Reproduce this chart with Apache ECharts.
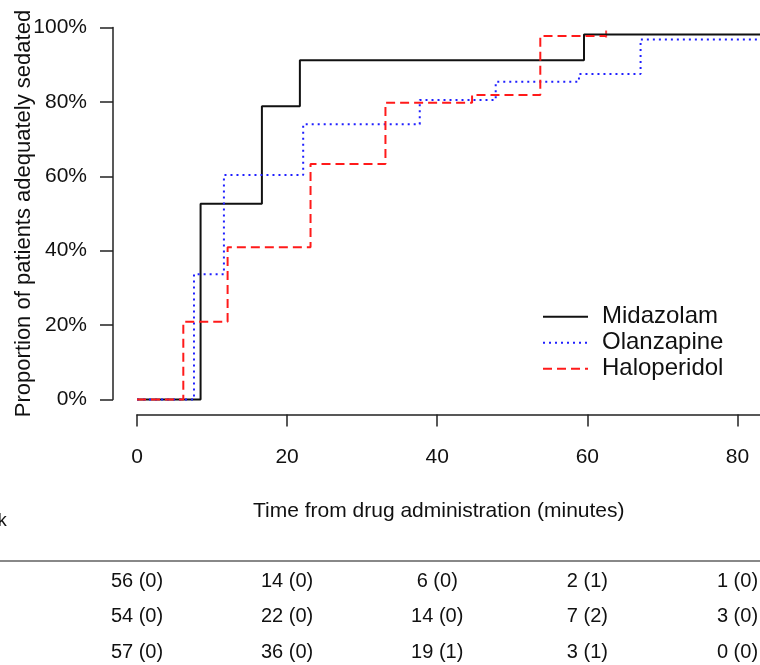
<!DOCTYPE html>
<html>
<head>
<meta charset="utf-8">
<script src="https://cdn.jsdelivr.net/npm/echarts@6/dist/echarts.min.js"></script>
<style>html,body{margin:0;padding:0;background:#fff;}#c{width:760px;height:665px;}</style>
</head>
<body>
<div id="c"></div>
<script>
// ---- data ----
const seriesNames = ['Midazolam', 'Olanzapine', 'Haloperidol'];
const midTimes = [0, 8.47, 16.64, 21.70, 59.55, 85];
const midProp  = [0, 0.526, 0.788, 0.912, 0.981, 0.981];
const olzTimes = [0, 7.59, 11.58, 22.14, 37.67, 47.79, 58.88, 67.09, 85];
const olzProp  = [0, 0.337, 0.6035, 0.740, 0.805, 0.854, 0.875, 0.968, 0.968];
const halTimes = [0, 6.17, 12.07, 23.12, 33.10, 44.64, 53.73, 62.5];
const halProp  = [0, 0.209, 0.409, 0.633, 0.798, 0.8185, 0.977, 0.977];
const halCensorTimes = [62.5];
const halCensorProp  = [0.977];
const xTicks = [0, 20, 40, 60, 80];
const yTicks = [0, 0.2, 0.4, 0.6, 0.8, 1.0];
const riskTimes = [0, 20, 40, 60, 80];
const riskMid = ['56 (0)', '14 (0)', '6 (0)', '2 (1)', '1 (0)'];
const riskOlz = ['54 (0)', '22 (0)', '14 (0)', '7 (2)', '3 (0)'];
const riskHal = ['57 (0)', '36 (0)', '19 (1)', '3 (1)', '0 (0)'];

const FONT = '"Liberation Sans", Arial, Helvetica, sans-serif';
const zip = (a, b) => a.map((v, i) => [v, b[i]]);

const riskData = [];
[riskMid, riskOlz, riskHal].forEach((row, r) => {
  row.forEach((txt, i) => riskData.push([riskTimes[i], seriesNames[r], txt]));
});

const chart = echarts.init(document.getElementById('c'), null, {renderer: 'canvas'});
const axisColor = '#222';

chart.setOption({
  animation: false,
  backgroundColor: '#fff',
  textStyle: {fontFamily: FONT},
  grid: [
    {left: 137, right: 0, top: 12.6, height: 401.8, containLabel: false, outerBoundsMode: 'none'},
    {left: 113, top: 27.5, height: 372, width: 600, containLabel: false, outerBoundsMode: 'none'},
    {left: 137, right: 0, top: 563.5, height: 106.5, containLabel: false, outerBoundsMode: 'none'}
  ],
  xAxis: [
    {
      gridIndex: 0, type: 'value', min: 0, max: 83, interval: 20,
      splitLine: {show: false},
      axisLine: {show: true, onZero: false, lineStyle: {color: axisColor, width: 1.5}},
      axisTick: {show: true, length: 12, customValues: xTicks, lineStyle: {color: axisColor, width: 1.5}},
      axisLabel: {
        margin: 32, fontSize: 21, color: '#111', fontFamily: FONT, customValues: xTicks,
        formatter: v => (xTicks.indexOf(v) >= 0 ? String(v) : '')
      }
    },
    {gridIndex: 1, type: 'value', min: 0, max: 1, show: false},
    {gridIndex: 2, type: 'value', min: 0, max: 83, show: false}
  ],
  yAxis: [
    {gridIndex: 0, type: 'value', min: -0.04, max: 1.04, show: false},
    {
      gridIndex: 1, type: 'value', min: 0, max: 1, interval: 0.2,
      splitLine: {show: false},
      axisLine: {show: true, lineStyle: {color: axisColor, width: 1.5}},
      axisTick: {show: true, length: 13, lineStyle: {color: axisColor, width: 1.5}},
      axisLabel: {
        margin: 26, fontSize: 21, color: '#111', fontFamily: FONT,
        formatter: v => Math.round(v * 100) + '%'
      },
      name: 'Proportion of patients adequately sedated',
      nameLocation: 'middle', nameGap: 78, nameMoveOverlap: false,
      nameTextStyle: {fontSize: 22, color: '#111', fontFamily: FONT}
    },
    {gridIndex: 2, type: 'category', data: seriesNames, inverse: true, show: false}
  ],
  legend: {
    orient: 'vertical', left: 537, top: 298.7,
    itemWidth: 45, itemHeight: 14, itemGap: 0,
    data: seriesNames,
    itemStyle: {opacity: 0},
    textStyle: {fontSize: 24, color: '#111', fontFamily: FONT, lineHeight: 26, padding: [0, 0, 0, 9]}
  },
  series: [
    {
      name: 'Midazolam', type: 'line', step: 'end', xAxisIndex: 0, yAxisIndex: 0,
      data: zip(midTimes, midProp), symbol: 'none', clip: true,
      lineStyle: {color: '#111', width: 2, type: 'solid'}, itemStyle: {color: '#111'}
    },
    {
      name: 'Olanzapine', type: 'line', step: 'end', xAxisIndex: 0, yAxisIndex: 0,
      data: zip(olzTimes, olzProp), symbol: 'none', clip: true,
      lineStyle: {color: '#1f1fff', width: 2, type: [2, 4]}, itemStyle: {color: '#1f1fff'}
    },
    {
      name: 'Haloperidol', type: 'line', step: 'end', xAxisIndex: 0, yAxisIndex: 0,
      data: zip(halTimes, halProp), symbol: 'none', clip: true,
      lineStyle: {color: '#ff1a1a', width: 2, type: [9, 5]}, itemStyle: {color: '#ff1a1a'}
    },
    {
      name: 'Haloperidol censored', type: 'scatter', xAxisIndex: 0, yAxisIndex: 0,
      data: zip(halCensorTimes, halCensorProp), symbol: 'rect', symbolSize: [2, 7], symbolOffset: [0, -2],
      itemStyle: {color: '#ff1a1a'}, silent: true
    },
    {
      name: 'risk', type: 'scatter', xAxisIndex: 2, yAxisIndex: 2,
      data: riskData, symbolSize: 1, itemStyle: {color: 'rgba(0,0,0,0)'}, silent: true,
      encode: {x: 0, y: 1},
      label: {
        show: true, position: 'inside', fontSize: 20, color: '#111', fontFamily: FONT,
        textBorderWidth: 0, opacity: 1,
        formatter: p => p.data[2]
      }
    }
  ],
  graphic: [
    {
      type: 'text', left: 253, top: 501,
      style: {text: 'Time from drug administration (minutes)', fontSize: 21, fill: '#111', fontFamily: FONT}
    },
    {
      type: 'text', x: 6.7, y: 521,
      style: {text: 'Number at risk', fontSize: 18, fill: '#111', fontFamily: FONT, align: 'right', verticalAlign: 'middle'}
    },
    {
      type: 'line', shape: {x1: 0, y1: 561, x2: 760, y2: 561},
      style: {stroke: '#888', lineWidth: 2}
    }
  ]
});
</script>
</body>
</html>
